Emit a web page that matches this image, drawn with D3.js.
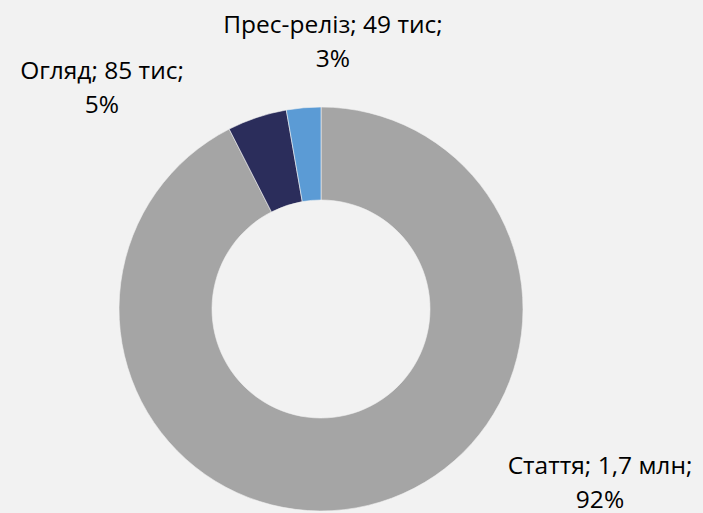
<!DOCTYPE html>
<html><head><meta charset="utf-8">
<script src="https://cdn.jsdelivr.net/npm/d3@7"></script>
<style>html,body{margin:0;padding:0;background:#f2f2f2;}svg{display:block;}</style>
</head><body>
<svg id="c" width="703" height="513"></svg>
<script>
const categories = ["Стаття", "Огляд", "Прес-реліз"];
const values = [1650000, 85000, 49000];
const valueLabels = ["1,7 млн", "85 тис", "49 тис"];
const colors = ["#a5a5a5", "#2b2d5b", "#5b9bd5"];

const W = 703, H = 513;
const cx = 321, cy = 309, rOuter = 202, rInner = 109;
// label anchor positions (layout): [center x, baseline of first line]
const labelPos = [[600, 474], [102, 79], [333, 33]];
const lineGap = 33.5;

const svg = d3.select("#c");
svg.append("rect").attr("width", W).attr("height", H).attr("fill", "#f2f2f2");
const g = svg.append("g").attr("transform", `translate(${cx},${cy})`);

const data = categories.map((c, i) => ({cat: c, value: values[i], vl: valueLabels[i], color: colors[i]}));
const pie = d3.pie().value(d => d.value).sort(null);
const arc = d3.arc().innerRadius(rInner).outerRadius(rOuter);
const arcs = pie(data);
const total = d3.sum(values);

g.selectAll("path").data(arcs).join("path")
  .attr("d", arc).attr("fill", d => d.data.color)
  .attr("stroke", "#f2f2f2").attr("stroke-width", 0.6);

const font = "'Open Sans', sans-serif";
arcs.forEach((a, i) => {
  const pct = Math.round(a.data.value / total * 100) + "%";
  const t = svg.append("text").attr("text-anchor", "middle")
    .attr("font-family", font).attr("font-size", 24.5).attr("fill", "#000");
  t.append("tspan").attr("x", labelPos[i][0]).attr("y", labelPos[i][1]).text(`${a.data.cat}; ${a.data.vl};`);
  t.append("tspan").attr("x", labelPos[i][0]).attr("y", labelPos[i][1] + lineGap).text(pct);
});
</script>
</body></html>
